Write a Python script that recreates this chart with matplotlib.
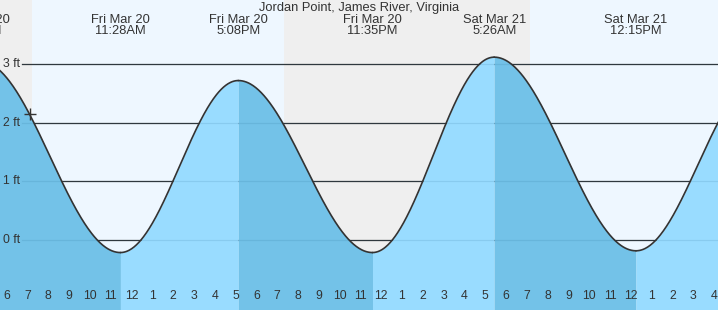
import numpy as np
import matplotlib
matplotlib.use("Agg")
import matplotlib.pyplot as plt
from matplotlib.transforms import blended_transform_factory

plt.rcParams['font.family'] = ['Liberation Sans', 'DejaVu Sans']

# ---------------- data ----------------
title = "Jordan Point, James River, Virginia"
event_days = ["Fri Mar 20", "Fri Mar 20", "Fri Mar 20", "Fri Mar 20",
              "Sat Mar 21", "Sat Mar 21", "Sat Mar 21"]
event_times = ["4:43AM", "11:28AM", "5:08PM", "11:35PM",
               "5:26AM", "12:15PM", "6:12PM"]
event_heights = [3.05, -0.22, 2.72, -0.22, 3.12, -0.19, 2.75]

daylight_start = [("Fri", "7:13AM"), ("Sat", "7:09AM")]
daylight_end = [("Fri", "7:19PM"), ("Sat", "7:20PM")]

y_ticks = [0, 1, 2, 3]
y_tick_labels = ["0 ft", "1 ft", "2 ft", "3 ft"]

first_tick_hour = 6  # Fri 6 AM
hour_labels = ["6", "7", "8", "9", "10", "11", "12", "1", "2", "3", "4", "5",
               "6", "7", "8", "9", "10", "11", "12", "1", "2", "3", "4", "5",
               "6", "7", "8", "9", "10", "11", "12", "1", "2", "3", "4"]

now_time = ("Fri", "7:07AM")
now_height = 2.15

x_range = (5.678, 40.192)   # hours since Fri 00:00
y_range = (-1.202, 4.097)   # feet

# ---------------- helpers ----------------
day_offset = {"Fri": 0.0, "Sat": 24.0}


def to_hours(day, clock):
    ampm = clock[-2:]
    hh, mm = clock[:-2].split(":")
    h = int(hh) % 12 + (12 if ampm == "PM" else 0)
    return day_offset[day] + h + int(mm) / 60.0


ev_t = [to_hours(d.split()[0], c) for d, c in zip(event_days, event_times)]

# ---------------- figure ----------------
W, H = 718, 310
fig = plt.figure(figsize=(W / 100, H / 100), dpi=100)
ax = fig.add_axes([0, 0, 1, 1])
ax.set_xlim(*x_range)
ax.set_ylim(*y_range)
for s in ax.spines.values():
    s.set_visible(False)
ax.set_yticks([])

# background: night grey, day light blue
ax.axvspan(x_range[0], x_range[1], color="#efefef", zorder=0, lw=0)
for (d0, c0), (d1, c1) in zip(daylight_start, daylight_end):
    ax.axvspan(to_hours(d0, c0), to_hours(d1, c1), color="#eef7ff", zorder=0.5, lw=0)

# grid lines under the water
gx0 = 22 / W
for y in y_ticks:
    ax.axhline(y, xmin=gx0, xmax=1, color="#333333", lw=0.9, zorder=1.5)

# tide curve (cosine between successive extremes)
for i in range(len(ev_t) - 1):
    t0, t1 = ev_t[i], ev_t[i + 1]
    h0, h1 = event_heights[i], event_heights[i + 1]
    tt = np.linspace(t0, t1, 200)
    hh = h0 + (h1 - h0) * (1 - np.cos(np.pi * (tt - t0) / (t1 - t0))) / 2
    col = "#73c2e8" if h1 < h0 else "#99dcff"
    ax.fill_between(tt, y_range[0], hh, color=col, lw=0, zorder=2)
    ax.plot(tt, hh, color="#333333", lw=1.2, zorder=3, solid_capstyle="round")

# grid lines showing faintly through the water
for y in y_ticks:
    ax.axhline(y, xmin=gx0, xmax=1, color="#1a5f8a", lw=0.9, alpha=0.13, zorder=2.5)

# y labels
for y, lab in zip(y_ticks, y_tick_labels):
    ax.text(3 / W, y, lab, transform=blended_transform_factory(ax.transAxes, ax.transData),
            ha="left", va="center", fontsize=8.8, color="#333333", zorder=6)

# hour ticks
tick_pos = [first_tick_hour + i for i in range(len(hour_labels))]
ax.set_xticks(tick_pos)
ax.tick_params(axis="x", direction="in", length=5.8, width=0.8, color="#222222",
               labelbottom=False, bottom=True, top=False)
for tk, tp in zip(ax.xaxis.get_major_ticks(), tick_pos):
    tk.tick1line.set_zorder(4)
    if tp % 24 == 0:
        tk.tick1line.set_markeredgewidth(2.3)
btrans = blended_transform_factory(ax.transData, ax.transAxes)
for tp, lab in zip(tick_pos, hour_labels):
    ax.text(tp, 1 - 296 / H, lab, transform=btrans, ha="center", va="center",
            fontsize=8.8, color="#333333", zorder=6)

# extreme labels (the event after the right edge is not labelled)
for t, d, c in zip(ev_t, event_days, event_times):
    if t > x_range[1]:
        continue
    ax.text(t, 1 - 20 / H, d, transform=btrans, ha="center", va="center",
            fontsize=9.3, color="#333333", zorder=6, clip_on=False)
    ax.text(t, 1 - 31.5 / H, c, transform=btrans, ha="center", va="center",
            fontsize=9.3, color="#333333", zorder=6, clip_on=False)

# title
ax.text(0.5, 1 - 7.5 / H, title, transform=ax.transAxes, ha="center", va="center",
        fontsize=9.3, color="#333333", zorder=6)

# current time marker
ax.plot([to_hours(*now_time)], [now_height], marker="+", ms=8, mew=1.0,
        color="#333333", zorder=5)

fig.savefig("out.png", dpi=100)
